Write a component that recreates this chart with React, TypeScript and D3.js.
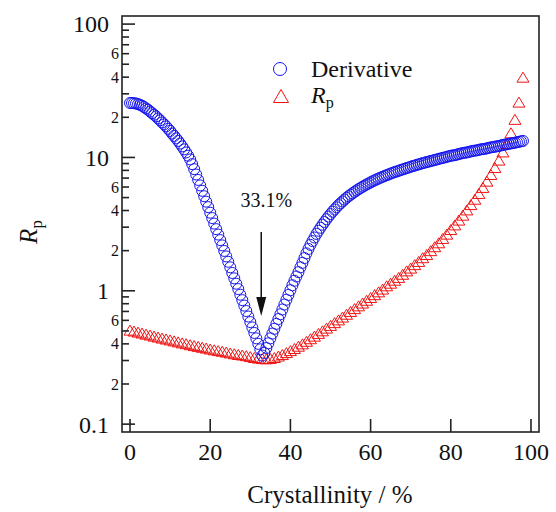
import { useEffect, useRef } from 'react';
import * as d3 from 'd3';

// crystallinity steps (%)
const derivX = d3.range(0, 98.001, 0.5);
const rpX = d3.range(0, 99, 1);

// Derivative, every 0.5 %
const derivY = [
  25.6, 25.6, 25.5, 25.4, 25.1, 24.8, 24.4, 23.9, 23.3, 22.8,
  22.1, 21.5, 20.9, 20.3, 19.6, 19.0, 18.3, 17.7, 17.1, 16.4,
  15.8, 15.1, 14.5, 13.9, 13.3, 12.7, 12.1, 11.5, 10.9, 10.3,
  9.66, 8.91, 8.17, 7.45, 6.78, 6.17, 5.62, 5.12, 4.66, 4.24,
  3.85, 3.51, 3.19, 2.9, 2.64, 2.4, 2.19, 1.99, 1.81, 1.65,
  1.5, 1.36, 1.24, 1.13, 1.03, 0.935, 0.851, 0.774, 0.705, 0.641,
  0.583, 0.531, 0.483, 0.44, 0.4, 0.364, 0.327, 0.342, 0.372, 0.404,
  0.44, 0.478, 0.519, 0.565, 0.614, 0.667, 0.724, 0.789, 0.857, 0.931,
  1.01, 1.1, 1.19, 1.28, 1.38, 1.5, 1.62, 1.76, 1.91, 2.06,
  2.21, 2.36, 2.51, 2.67, 2.82, 2.97, 3.13, 3.28, 3.44, 3.6,
  3.76, 3.92, 4.07, 4.23, 4.39, 4.53, 4.68, 4.83, 4.98, 5.12,
  5.25, 5.38, 5.52, 5.65, 5.78, 5.9, 6.03, 6.15, 6.27, 6.38,
  6.5, 6.62, 6.73, 6.84, 6.95, 7.06, 7.16, 7.26, 7.36, 7.46,
  7.57, 7.67, 7.76, 7.85, 7.94, 8.04, 8.13, 8.22, 8.32, 8.41,
  8.51, 8.61, 8.69, 8.79, 8.87, 8.97, 9.06, 9.14, 9.23, 9.31,
  9.4, 9.48, 9.57, 9.66, 9.75, 9.84, 9.93, 10.0, 10.1, 10.2,
  10.3, 10.35, 10.4, 10.5, 10.6, 10.7, 10.8, 10.85, 10.9, 11.0,
  11.1, 11.2, 11.25, 11.3, 11.4, 11.5, 11.55, 11.6, 11.7, 11.8,
  11.9, 11.95, 12.05, 12.1, 12.2, 12.3, 12.4, 12.5, 12.55, 12.65,
  12.75, 12.8, 12.9, 13.0, 13.1, 13.2, 13.3,
];

// Rp, every 1 %
const rpY = [
  0.507, 0.499, 0.49, 0.482, 0.473, 0.466, 0.457, 0.45, 0.442, 0.435,
  0.428, 0.421, 0.414, 0.407, 0.401, 0.394, 0.388, 0.383, 0.377, 0.372,
  0.366, 0.361, 0.356, 0.352, 0.347, 0.342, 0.337, 0.333, 0.33, 0.326,
  0.321, 0.316, 0.313, 0.31, 0.309, 0.311, 0.316, 0.324, 0.333, 0.344,
  0.356, 0.369, 0.384, 0.4, 0.418, 0.437, 0.457, 0.479, 0.501, 0.525,
  0.55, 0.577, 0.605, 0.635, 0.667, 0.7, 0.735, 0.771, 0.809, 0.849,
  0.891, 0.935, 0.982, 1.03, 1.09, 1.14, 1.2, 1.26, 1.33, 1.41,
  1.48, 1.57, 1.66, 1.77, 1.87, 2.0, 2.14, 2.29, 2.47, 2.66,
  2.88, 3.12, 3.39, 3.69, 4.04, 4.43, 4.86, 5.37, 5.96, 6.64,
  7.45, 8.4, 9.55, 11.0, 12.7, 15.3, 19.3, 26.0, 40.0,
];

const xTicks = [0, 20, 40, 60, 80, 100];
const yMajor = [0.1, 1, 10, 100];
const yMajorLabels = ['0.1', '1', '10', '100'];
const yMinorLabelled = [2, 4, 6];
const minValue = 33.1; // marked minimum

const W = 556;
const H = 512;
const left = 122, right = 539, top = 16, bottom = 432;
const blue = '#1414f0';
const red = '#f01414';

const tri = (w: number, h: number) => `M0,${-h / 2}L${w / 2},${h / 2}L${-w / 2},${h / 2}Z`;

export default function App() {
  const ref = useRef<SVGSVGElement>(null);

  useEffect(() => {
    const svg = d3.select(ref.current);
    svg.selectAll('*').remove();

    const x = d3.scaleLinear().domain([-2, 102]).range([left, right]);
    const y = d3.scaleLog().domain([0.0873, 115]).range([bottom, top]);

    // Rp triangles, then derivative circles on top
    svg.append('g').attr('fill', 'none').attr('stroke', red)
      .selectAll('path').data(rpX.map((d, i) => ({ x: d, y: rpY[i] }))).join('path')
      .attr('d', tri(12, 10))
      .attr('transform', d => `translate(${x(d.x)},${y(d.y)})`);
    svg.append('g').attr('fill', 'none').attr('stroke', blue)
      .selectAll('circle').data(derivX.map((d, i) => ({ x: d, y: derivY[i] }))).join('circle')
      .attr('cx', d => x(d.x)).attr('cy', d => y(d.y)).attr('r', 5.5);

    // frame
    svg.append('rect')
      .attr('x', left).attr('y', top).attr('width', right - left).attr('height', bottom - top)
      .attr('fill', 'none').attr('stroke', '#222').attr('stroke-width', 1.6);

    // ticks
    const minor: number[] = [];
    [0.1, 1, 10].forEach(d => d3.range(2, 10).forEach(k => minor.push(d * k)));
    const tk = svg.append('g').attr('stroke', '#222').attr('stroke-width', 1.6);
    tk.selectAll('.ymaj').data(yMajor).join('line')
      .attr('x1', left).attr('x2', left + 13).attr('y1', d => y(d)).attr('y2', d => y(d));
    tk.selectAll('.ymin').data(minor).join('line')
      .attr('x1', left).attr('x2', left + 7).attr('y1', d => y(d)).attr('y2', d => y(d));
    tk.selectAll('.xmaj').data(xTicks).join('line')
      .attr('x1', d => x(d)).attr('x2', d => x(d)).attr('y1', bottom).attr('y2', bottom - 13);

    const txt = (sel: any) => sel.attr('font-family', 'Liberation Serif').attr('fill', '#111');

    svg.append('g').selectAll('text').data(yMajor).join('text').call(txt)
      .attr('x', 109).attr('y', d => y(d)).attr('dy', '0.35em')
      .attr('font-size', 24).attr('text-anchor', 'end')
      .text((d, i) => yMajorLabels[i]);

    const minorLab = [0.1, 1, 10].flatMap(d => yMinorLabelled.map(k => ({ v: d * k, k })));
    svg.append('g').selectAll('text').data(minorLab).join('text').call(txt)
      .attr('x', 119).attr('y', d => y(d.v)).attr('dy', '0.35em')
      .attr('font-size', 16).attr('text-anchor', 'end')
      .text(d => d.k);

    svg.append('g').selectAll('text').data(xTicks).join('text').call(txt)
      .attr('x', d => x(d)).attr('y', 460)
      .attr('font-size', 24).attr('text-anchor', 'middle')
      .text(d => d);

    svg.append('text').call(txt)
      .attr('x', 330).attr('y', 503).attr('font-size', 25).attr('text-anchor', 'middle')
      .text('Crystallinity / %');

    const yt = svg.append('text').call(txt)
      .attr('transform', 'translate(37,232) rotate(-90)')
      .attr('font-size', 25).attr('text-anchor', 'middle');
    yt.append('tspan').attr('font-style', 'italic').text('R');
    yt.append('tspan').attr('font-size', 17).attr('dy', 5).text('p');

    // legend
    svg.append('circle').attr('cx', 280).attr('cy', 69).attr('r', 6.5)
      .attr('fill', 'none').attr('stroke', blue);
    svg.append('text').call(txt).attr('x', 311).attr('y', 77).attr('font-size', 24).text('Derivative');
    svg.append('path').attr('d', tri(15, 13)).attr('transform', 'translate(281,96)')
      .attr('fill', 'none').attr('stroke', red);
    const lt = svg.append('text').call(txt).attr('x', 311).attr('y', 103).attr('font-size', 24);
    lt.append('tspan').attr('font-style', 'italic').text('R');
    lt.append('tspan').attr('font-size', 16).attr('dy', 5).text('p');

    // minimum annotation
    const ax = x(minValue) - 1.5;
    svg.append('text').call(txt)
      .attr('x', ax + 5).attr('y', 207).attr('font-size', 20).attr('text-anchor', 'middle')
      .text(`${minValue}%`);
    svg.append('line').attr('x1', ax).attr('x2', ax).attr('y1', 232).attr('y2', 300)
      .attr('stroke', '#111').attr('stroke-width', 1.5);
    svg.append('path').attr('d', `M${ax - 5},297L${ax + 5},297L${ax},316Z`).attr('fill', '#111');
  }, []);

  return (
    <svg ref={ref} width={W} height={H} style={{ position: 'absolute', left: 0, top: 0 }} />
  );
}
